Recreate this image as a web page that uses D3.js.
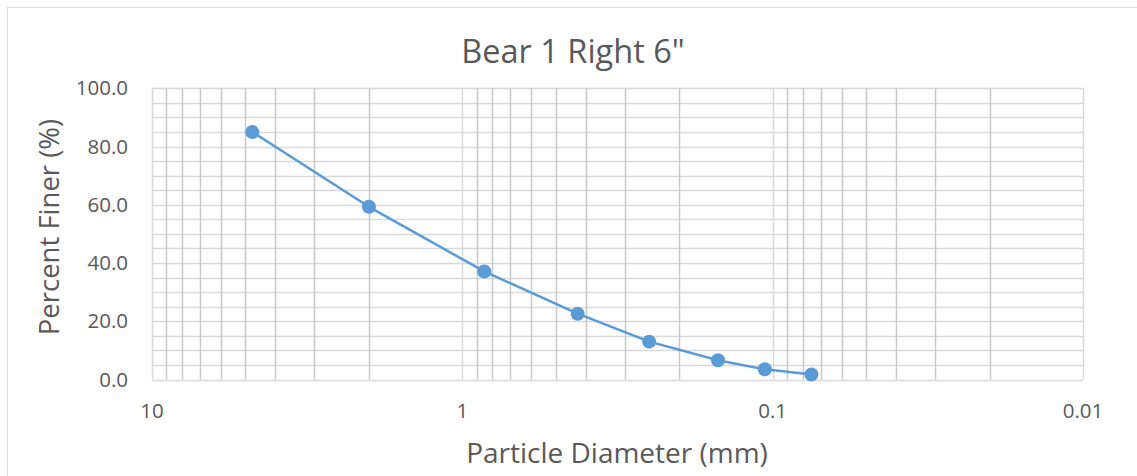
<!DOCTYPE html>
<html>
<head>
<meta charset="utf-8">
<script src="https://cdn.jsdelivr.net/npm/d3@7"></script>
<style>
  body { margin: 0; background: #fff; }
  text { font-family: "Open Sans", sans-serif; fill: #595959; }
</style>
</head>
<body>
<div id="chart"></div>
<script>
// sieve sizes (mm) and percent passing
var diameters = [4.75, 2.0, 0.85, 0.425, 0.25, 0.15, 0.106, 0.075];
var percentFiner = [85.0, 59.3, 37.1, 22.6, 13.0, 6.6, 3.5, 1.7];

var xTickValues = [10, 1, 0.1, 0.01];
var xTickLabels = ["10", "1", "0.1", "0.01"];
var yTickValues = [0, 20, 40, 60, 80, 100];

(function() {
    var width = 1137,
        height = 476;

    var svg = d3.select("#chart")
        .append("svg")
        .attr("width", width)
        .attr("height", height);

    // outer chart border
    svg.append("rect")
        .attr("x", 7.5).attr("y", 7.5)
        .attr("width", width).attr("height", height)
        .attr("fill", "none")
        .attr("stroke", "#d9d9d9");

    // reversed log axis, 10 on the left
    var x = d3.scaleLog().domain([10, 0.01]).range([152, 1083]);
    var y = d3.scaleLinear().domain([0, 100]).range([379.5, 88.3]);

    var grid = svg.append("g");

    // horizontal grid every 4 %
    grid.selectAll(".hline")
        .data(y.ticks(25))
        .enter().append("line")
        .attr("class", "hline")
        .attr("x1", x(10)).attr("x2", x(0.01))
        .attr("y1", function(d) { return Math.round(y(d)) + 0.5; })
        .attr("y2", function(d) { return Math.round(y(d)) + 0.5; })
        .attr("stroke", "#d9d9d9")
        .attr("stroke-width", 1.5);

    // vertical grid, one line per 1..9 multiple
    grid.selectAll(".vline")
        .data(x.ticks())
        .enter().append("line")
        .attr("class", "vline")
        .attr("x1", function(d) { return Math.round(x(d)) + 0.5; })
        .attr("x2", function(d) { return Math.round(x(d)) + 0.5; })
        .attr("y1", y(100)).attr("y2", y(0))
        .attr("stroke", function(d) {
            var l = Math.log10(d);
            return Math.abs(l - Math.round(l)) < 1e-9 ? "#d9d9d9" : "#c8c8c8";
        })
        .attr("stroke-width", 1.5);

    // y tick labels
    svg.selectAll(".ylab")
        .data(yTickValues)
        .enter().append("text")
        .attr("class", "ylab")
        .attr("x", 128)
        .attr("y", function(d) { return y(d); })
        .attr("dy", "0.35em")
        .attr("text-anchor", "end")
        .style("font-size", "20.5px")
        .text(function(d) { return d.toFixed(1); });

    // x tick labels
    svg.selectAll(".xlab")
        .data(xTickValues)
        .enter().append("text")
        .attr("class", "xlab")
        .attr("x", function(d) { return x(d); })
        .attr("y", 418)
        .attr("text-anchor", "middle")
        .style("font-size", "20.5px")
        .text(function(d, i) { return xTickLabels[i]; });

    // title + axis titles
    svg.append("text")
        .attr("x", 573).attr("y", 63)
        .attr("text-anchor", "middle")
        .style("font-size", "32.5px")
        .text("Bear 1 Right 6\"");

    svg.append("text")
        .attr("x", 617).attr("y", 463)
        .attr("text-anchor", "middle")
        .style("font-size", "28px")
        .text("Particle Diameter (mm)");

    svg.append("text")
        .attr("transform", "translate(59,227) rotate(-90)")
        .attr("text-anchor", "middle")
        .style("font-size", "27.5px")
        .text("Percent Finer (%)");

    var points = diameters.map(function(d, i) {
        return { d: d, p: percentFiner[i] };
    });

    var line = d3.line()
        .x(function(d) { return x(d.d); })
        .y(function(d) { return y(d.p); });

    svg.append("path")
        .datum(points)
        .attr("d", line)
        .attr("fill", "none")
        .attr("stroke", "#5b9bd5")
        .attr("stroke-width", 2.5)
        .attr("stroke-linejoin", "round");

    svg.selectAll(".dot")
        .data(points)
        .enter().append("circle")
        .attr("class", "dot")
        .attr("cx", function(d) { return x(d.d); })
        .attr("cy", function(d) { return y(d.p); })
        .attr("r", 7)
        .attr("fill", "#5b9bd5");
})();
</script>
</body>
</html>
